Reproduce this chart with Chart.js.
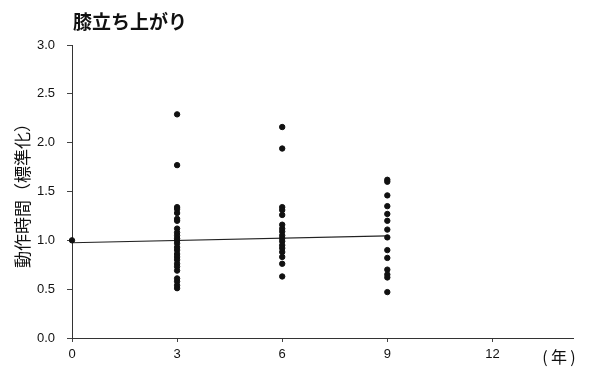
<!DOCTYPE html>
<html>
<head>
<meta charset="utf-8">
<script src="https://cdn.jsdelivr.net/npm/chart.js@4"></script>
<style>
  body { margin: 0; background: #fff; }
  #wrap { width: 590px; height: 367px; }
</style>
</head>
<body>
<div id="wrap"><canvas id="myChart" width="590" height="367"></canvas></div>
<script>
// values
const chartTitle = "膝立ち上がり";
const yTitle = "動作時間（標準化）";
const xUnit = ["(", "年", ")"];

const xTicks = [0, 3, 6, 9, 12];

const year0 = [1.00];
const year3 = [2.29, 1.77, 1.34, 1.32, 1.28, 1.22, 1.20, 1.12, 1.08, 1.05, 1.02, 1.00, 0.97,
               0.93, 0.90, 0.86, 0.83, 0.80, 0.76, 0.73, 0.69, 0.61, 0.58, 0.54, 0.51];
const year6 = [2.16, 1.94, 1.34, 1.31, 1.26, 1.16, 1.12, 1.09, 1.05, 1.02, 0.99, 0.95, 0.92,
               0.88, 0.83, 0.76, 0.63];
const year9 = [1.62, 1.60, 1.46, 1.35, 1.27, 1.20, 1.11, 1.03, 0.90, 0.82, 0.70, 0.65, 0.62, 0.47];

// regression line, both ends
const lineX = [0, 9];
const lineY = [0.975, 1.045];

const groups = [[0, year0], [3, year3], [6, year6], [9, year9]];
const points = [];
groups.forEach(g => g[1].forEach(v => points.push({x: g[0], y: v})));

const cjk = "'Noto Sans CJK JP', sans-serif";
const num = "'Liberation Sans', Arial, sans-serif";

const extraText = {
  id: "extraText",
  afterDraw(chart) {
    const c = chart.ctx;
    c.save();
    c.fillStyle = "#111";
    c.textBaseline = "middle";
    c.textAlign = "left";
    c.font = "bold 19px " + cjk;
    c.fillText(chartTitle, 73, 22);
    c.font = "16px " + cjk;
    c.textAlign = "center";
    c.fillText(xUnit[0], 545, 357);
    c.fillText(xUnit[1], 559, 357);
    c.fillText(xUnit[2], 573, 357);
    c.restore();
  }
};

let myChart = new Chart(document.getElementById("myChart").getContext("2d"), {
  type: "scatter",
  data: {
    datasets: [{
      data: points,
      backgroundColor: "#111",
      borderColor: "#111",
      pointRadius: 2.7,
      pointHoverRadius: 2.7,
      clip: false
    }, {
      type: "line",
      data: lineX.map((x, i) => ({x: x, y: lineY[i]})),
      borderColor: "#222",
      borderWidth: 1.2,
      pointRadius: 0,
      fill: false
    }]
  },
  options: {
    responsive: false,
    animation: false,
    events: [],
    layout: { padding: { top: 45, right: 17, left: 0, bottom: 0 } },
    plugins: {
      legend: { display: false },
      tooltip: { enabled: false }
    },
    scales: {
      x: {
        type: "linear",
        min: 0,
        max: 14.3,
        afterBuildTicks: s => { s.ticks = xTicks.map(v => ({value: v})); },
        afterFit: s => { s.height = 29; },
        grid: { drawOnChartArea: false, drawTicks: true, tickLength: 4, color: "#444" },
        border: { color: "#333", width: 1 },
        ticks: { padding: 5, color: "#111", font: { family: num, size: 13 } }
      },
      y: {
        min: 0,
        max: 3,
        afterFit: s => { s.width = 72; },
        grid: { drawOnChartArea: false, drawTicks: true, tickLength: 5, color: "#444" },
        border: { color: "#333", width: 1 },
        ticks: {
          stepSize: 0.5,
          padding: 12,
          color: "#111",
          font: { family: num, size: 13 },
          callback: v => v.toFixed(1)
        },
        title: {
          display: true,
          text: yTitle,
          color: "#111",
          padding: { top: 12, bottom: 0 },
          font: { family: cjk, size: 17 }
        }
      }
    }
  },
  plugins: [extraText]
});
</script>
</body>
</html>
